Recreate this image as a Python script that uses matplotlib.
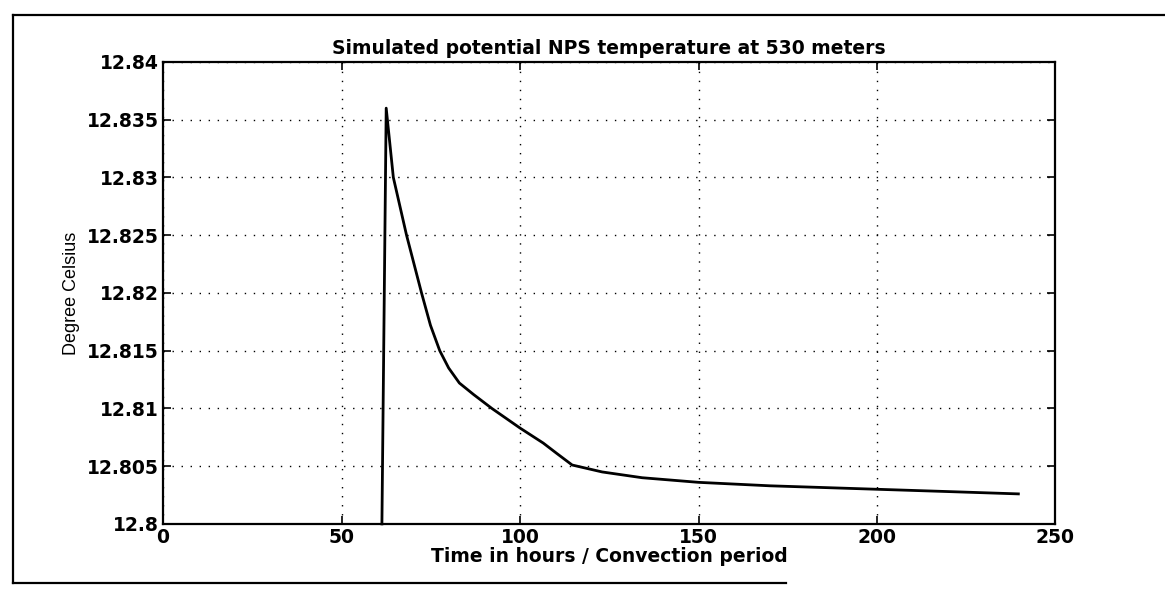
import matplotlib
matplotlib.use("Agg")
import matplotlib.pyplot as plt
from matplotlib.lines import Line2D

# values
hours = [61.3, 61.3, 62.5, 64.5, 68.2, 72.4, 74.9, 77.5, 80.0, 83.0, 87.0,
         92.1, 100.0, 106.5, 110.3, 114.6, 123.0, 134.2, 150.0, 170.0, 190.0,
         200.0, 220.0, 239.6]
temp = [12.8, 12.8, 12.8360, 12.830, 12.825, 12.820, 12.8172, 12.815, 12.8135,
        12.8122, 12.8112, 12.810, 12.8083, 12.8070, 12.8061, 12.8051, 12.8045,
        12.8040, 12.8036, 12.8033, 12.8031, 12.8030, 12.8028, 12.8026]
xticks = [0, 50, 100, 150, 200, 250]
yticks = [12.8, 12.805, 12.81, 12.815, 12.82, 12.825, 12.83, 12.835, 12.84]
ytick_labels = ["12.8", "12.805", "12.81", "12.815", "12.82", "12.825",
                "12.83", "12.835", "12.84"]

plt.rcParams["font.family"] = ["DejaVu Sans"]
plt.rcParams["font.weight"] = "bold"

fig = plt.figure(figsize=(11.65, 5.9), dpi=100)
ax = fig.add_axes([0.140, 0.112, 0.766, 0.783])

ax.plot(hours, temp, color="black", lw=2.0, clip_on=False)

ax.set_xlim(0, 250)
ax.set_ylim(12.8, 12.84)
ax.set_xticks(xticks)
ax.set_yticks(yticks)
ax.set_yticklabels(ytick_labels)
ax.grid(True, color="black", linestyle=(0, (1, 5.5)), lw=1.0)
ax.tick_params(direction="in", top=True, right=True, length=6, width=1.2,
               labelsize=13.5, pad=3)
for s in ax.spines.values():
    s.set_linewidth(1.6)

ax.set_title("Simulated potential NPS temperature at 530 meters",
             fontsize=13.5, pad=6, fontweight="bold")
ax.set_xlabel("Time in hours / Convection period", fontsize=13.5,
              labelpad=0, fontweight="bold")
ax.set_ylabel("Degree Celsius", fontsize=13, labelpad=5,
              family=["Liberation Sans", "DejaVu Sans"], fontweight="normal")

# outer frame of the scanned page (right side missing)
fig.add_artist(Line2D([0.011, 1.0], [0.975, 0.975], color="black", lw=1.6,
                      transform=fig.transFigure))
fig.add_artist(Line2D([0.011, 0.011], [0.975, 0.012], color="black", lw=1.6,
                      transform=fig.transFigure))
fig.add_artist(Line2D([0.011, 0.675], [0.012, 0.012], color="black", lw=1.6,
                      transform=fig.transFigure))

fig.savefig("out.png", dpi=100)
